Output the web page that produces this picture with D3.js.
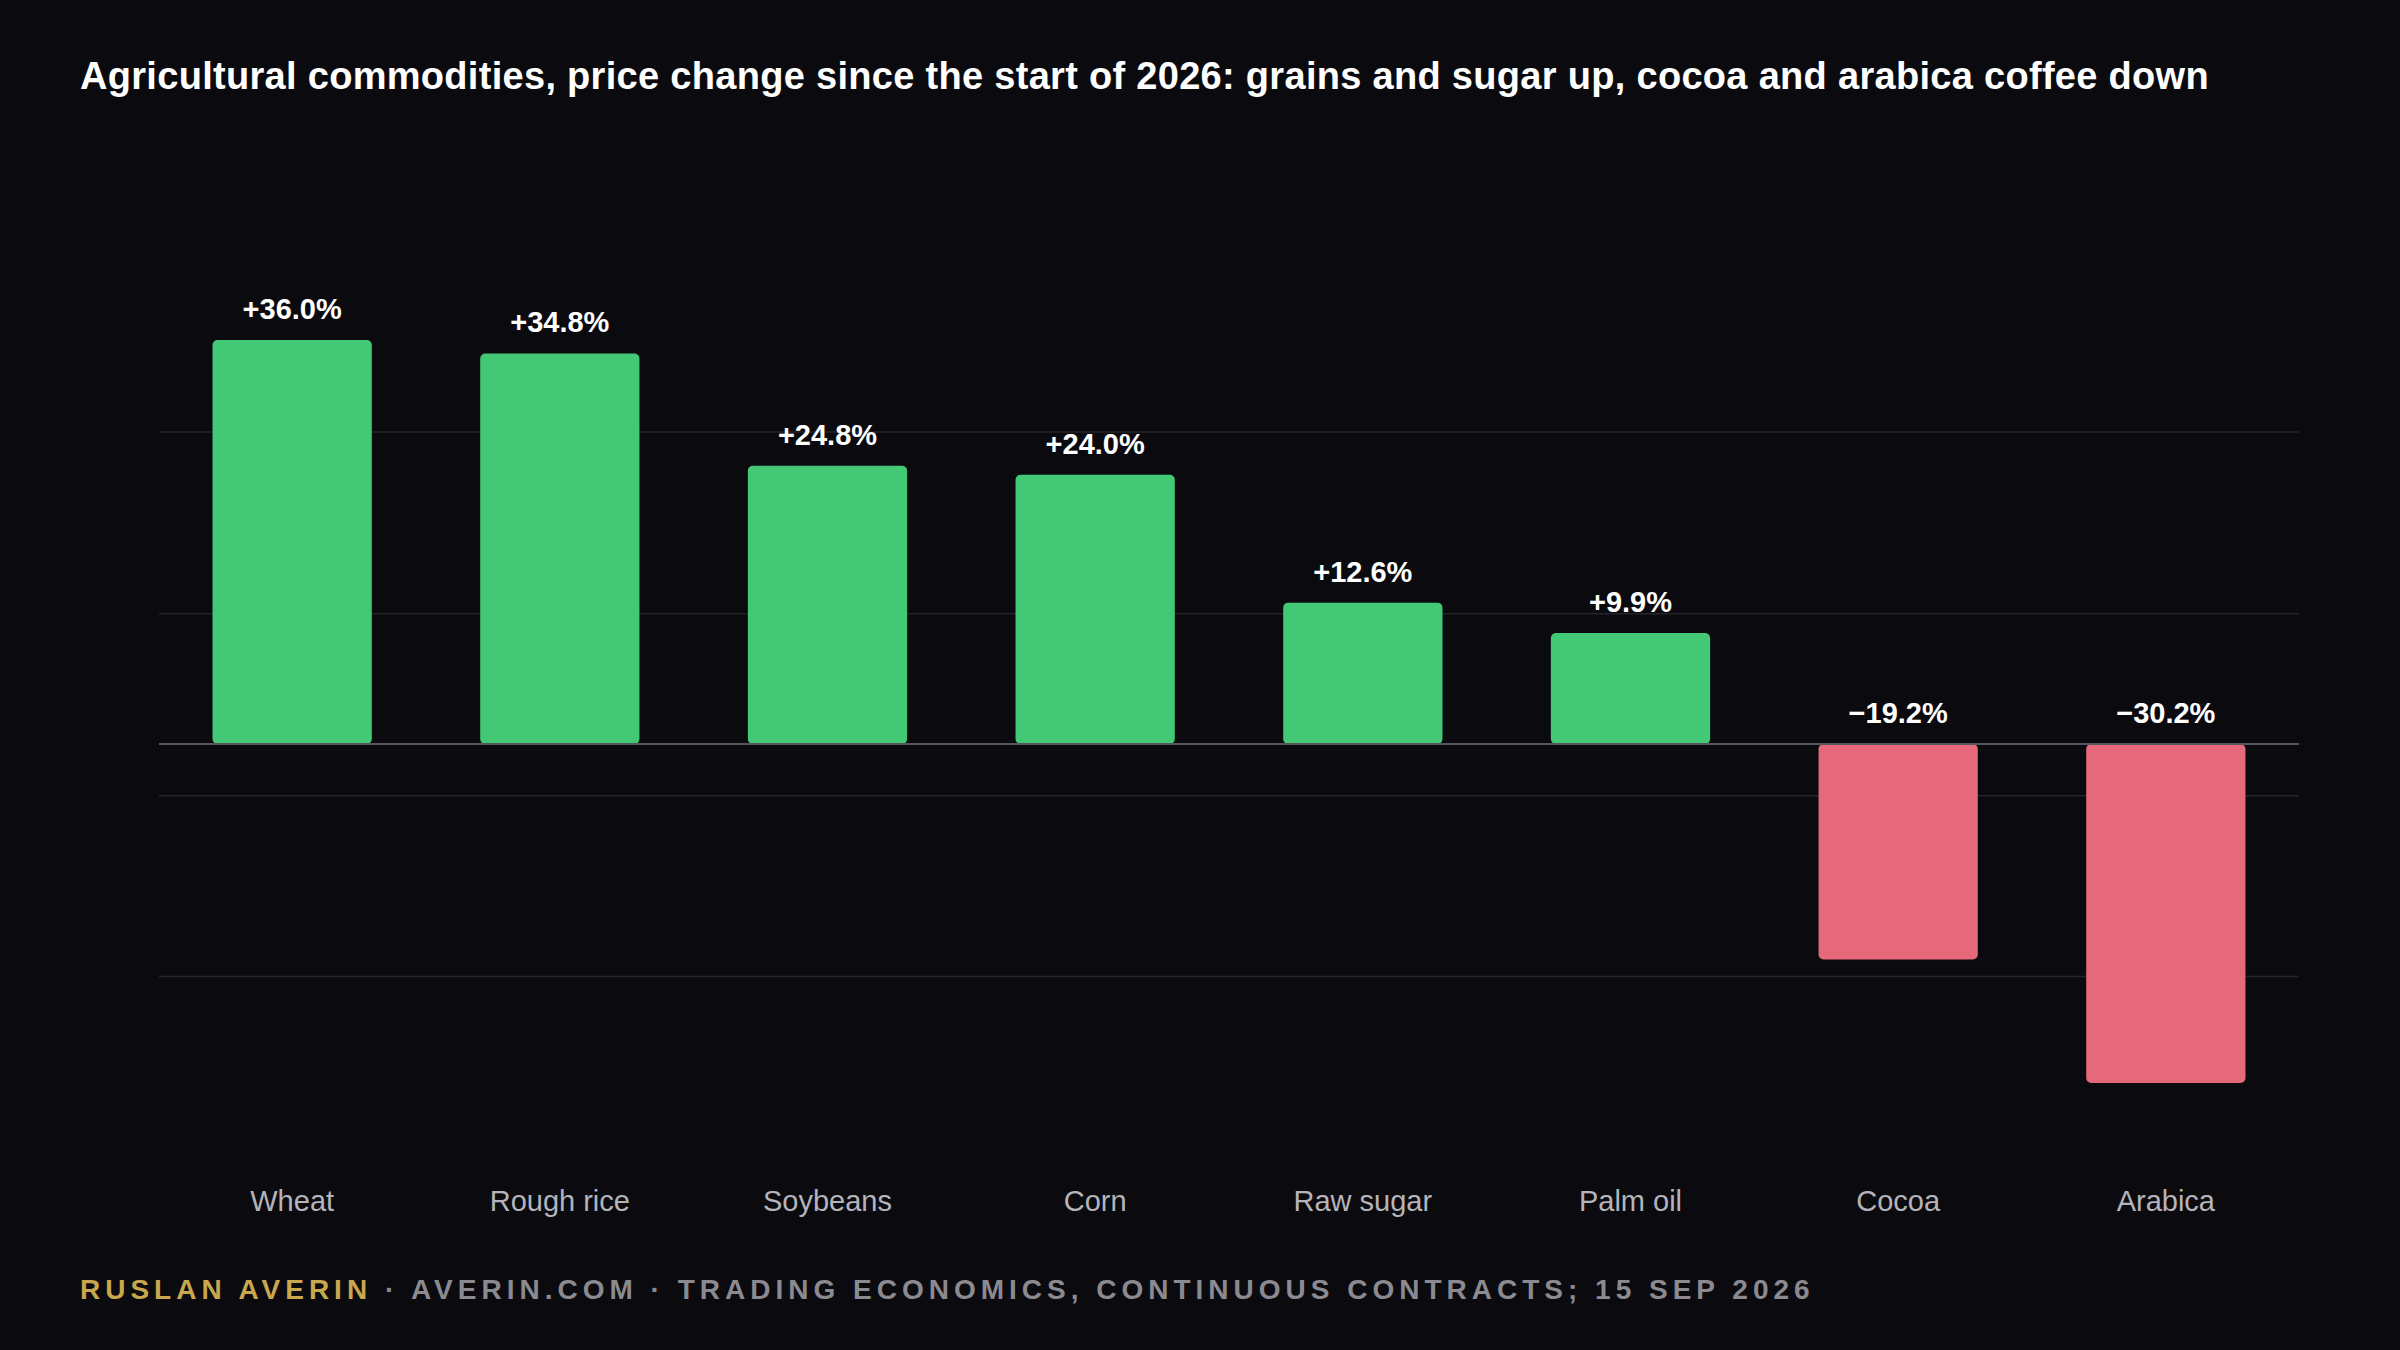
<!DOCTYPE html>
<html><head><meta charset="utf-8">
<script src="https://cdn.jsdelivr.net/npm/d3@7"></script>
<style>body{margin:0;background:#0b0b0f;}</style>
</head><body>
<script>
var w = 2400, h = 1350;

var categories = ["Wheat","Rough rice","Soybeans","Corn","Raw sugar","Palm oil","Cocoa","Arabica"];
var values = [36.0, 34.8, 24.8, 24.0, 12.6, 9.9, -19.2, -30.2];
var labels = ["+36.0%","+34.8%","+24.8%","+24.0%","+12.6%","+9.9%","\u221219.2%","\u221230.2%"];
var gridValues = [27.8, 11.6, -4.6, -20.7];

var svg = d3.select("body").append("svg").attr("width", w).attr("height", h);
svg.append("rect").attr("width", w).attr("height", h).attr("fill", "#0b0b0f");

var x = d3.scaleBand().domain(categories).range([159, 2299]).paddingInner(0.405).paddingOuter(0.2);
var y = d3.scaleLinear().domain([-30.2, 36]).range([1083, 340]);

svg.selectAll(".grid").data(gridValues).enter().append("line")
  .attr("x1", 159).attr("x2", 2299)
  .attr("y1", function(d){ return y(d); }).attr("y2", function(d){ return y(d); })
  .attr("stroke", "#24242a").attr("stroke-width", 1.5);

svg.selectAll(".bar").data(values).enter().append("rect")
  .attr("x", function(d,i){ return x(categories[i]); })
  .attr("y", function(d){ return d >= 0 ? y(d) : y(0); })
  .attr("width", x.bandwidth())
  .attr("height", function(d){ return Math.abs(y(d) - y(0)); })
  .attr("rx", 5)
  .attr("fill", function(d){ return d >= 0 ? "#43c975" : "#e5697a"; });

svg.append("line").attr("x1", 159).attr("x2", 2299).attr("y1", y(0)).attr("y2", y(0))
  .attr("stroke", "#55555c").attr("stroke-width", 2);

svg.selectAll(".val").data(values).enter().append("text")
  .attr("x", function(d,i){ return x(categories[i]) + x.bandwidth()/2; })
  .attr("y", function(d){ return (d >= 0 ? y(d) : y(0)) - 21; })
  .attr("text-anchor", "middle")
  .attr("font-family", "Liberation Sans, Arial, sans-serif")
  .attr("font-weight", "bold").attr("font-size", "29px").attr("fill", "#ffffff")
  .text(function(d,i){ return labels[i]; });

svg.selectAll(".cat").data(categories).enter().append("text")
  .attr("x", function(d){ return x(d) + x.bandwidth()/2; })
  .attr("y", 1211)
  .attr("text-anchor", "middle")
  .attr("font-family", "Liberation Sans, Arial, sans-serif")
  .attr("font-size", "29px").attr("fill", "#b4b4ba")
  .text(function(d){ return d; });

svg.append("text").attr("x", 80).attr("y", 89)
  .attr("font-family", "Liberation Sans, Arial, sans-serif")
  .attr("font-weight", "bold").attr("font-size", "38px").attr("fill", "#ffffff")
  .attr("letter-spacing", "0.3")
  .text("Agricultural commodities, price change since the start of 2026: grains and sugar up, cocoa and arabica coffee down");

var foot = svg.append("text").attr("x", 80).attr("y", 1299)
  .attr("font-family", "Liberation Sans, Arial, sans-serif")
  .attr("font-weight", "bold").attr("font-size", "28px").attr("letter-spacing", "5");
foot.append("tspan").attr("fill", "#c9a74e").text("RUSLAN AVERIN");
foot.append("tspan").attr("fill", "#8a8a90").text(" \u00b7 AVERIN.COM \u00b7 TRADING ECONOMICS, CONTINUOUS CONTRACTS; 15 SEP 2026");
</script>
</body></html>
